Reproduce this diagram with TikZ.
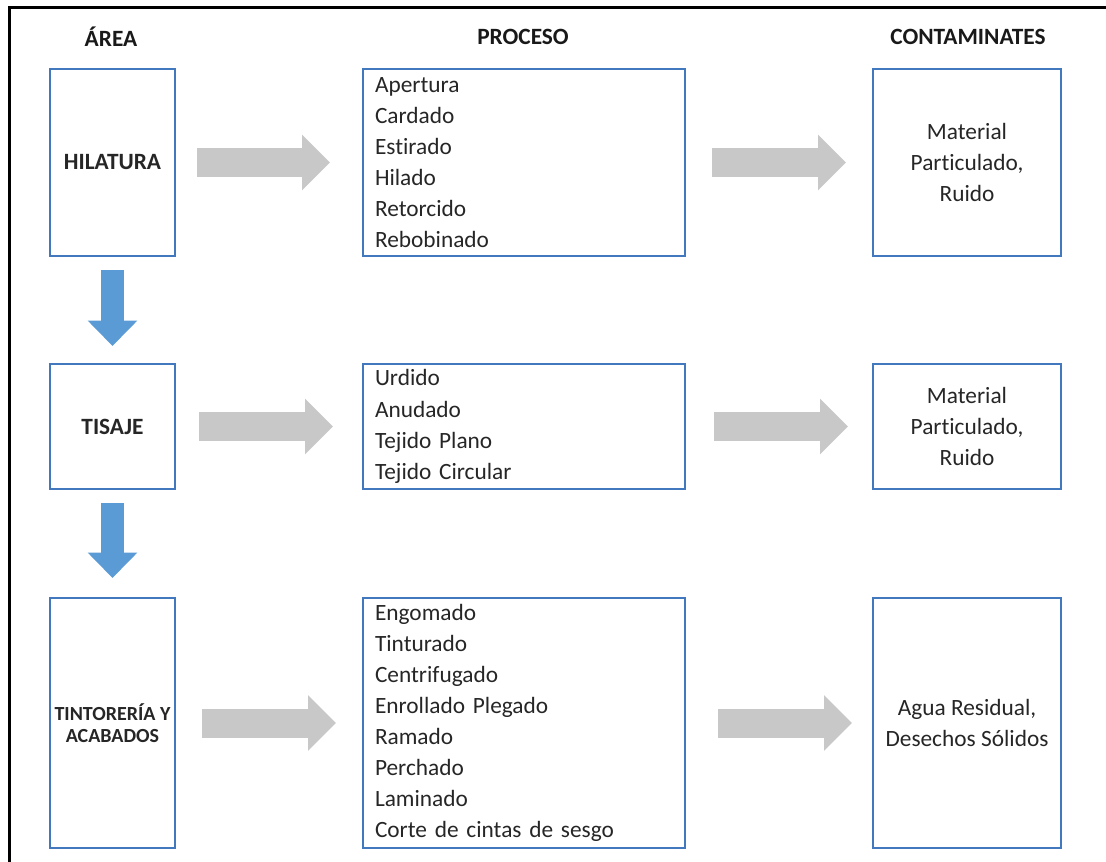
\documentclass[tikz,border=0pt]{standalone}
\usepackage{fontspec}
\setmainfont{Carlito}[Ligatures={TeX,NoCommon}]
\usetikzlibrary{arrows.meta}
\definecolor{boxblue}{RGB}{65,120,190}
\definecolor{arrowblue}{RGB}{91,155,213}
\definecolor{arrowgray}{RGB}{200,200,200}
\definecolor{txt}{RGB}{38,38,38}

\begin{document}
\begin{tikzpicture}[x=0.75pt, y=-0.75pt,
  area/.style={draw=boxblue, line width=1.5pt, anchor=north west, minimum width=93.75pt, inner sep=2pt, align=center, text=txt, font=\bfseries\fontsize{17.5}{21}\selectfont},
  proc/.style={draw=boxblue, line width=1.5pt, anchor=north west, text width=223.5pt, inner xsep=9pt, inner ysep=0pt, align=left, text=txt, font=\fontsize{17.5}{23.3}\selectfont},
  cont/.style={draw=boxblue, line width=1.5pt, anchor=north west, minimum width=141pt, align=center, text=txt, font=\fontsize{17.5}{23.6}\selectfont},
  head/.style={text=black!90, font=\bfseries\fontsize{17.5}{21}\selectfont},
  grayarrow/.style={draw=arrowgray, line width=21.75pt, -{Triangle[length=21pt, width=40.5pt]}},
  bluearrow/.style={draw=arrowblue, line width=17pt, -{Triangle[length=19pt, width=36pt]}}
]
\useasboundingbox (0,0) rectangle (1106,862);

% marco
\draw [line width=2.25pt] (9,870) -- (9,8) -- (1110,8);

\node [head] (harea) at (111,37) {ÁREA};
\node [head] (hproc) at (523,37) {PROCESO};
\node [head] (hcont) at (968,37) {CONTAMINATES};

\node [area, minimum height=140.25pt] (hil) at (49,68) {HILATURA};
\node [area, minimum height=93.75pt] (tis) at (49,363) {TISAJE};
\node [area, minimum height=187.5pt, font=\bfseries\fontsize{15}{16}\selectfont] (tin) at (49,597) {TINTORERÍA Y\\ACABADOS};

\node [proc, minimum height=140.25pt] (proc1) at (362,68) {Apertura\\Cardado\\Estirado\\Hilado\\Retorcido\\Rebobinado};
\node [proc, minimum height=93.75pt] (proc2) at (362,363) {Urdido\\Anudado\\Tejido Plano\\Tejido Circular};
\node [proc, minimum height=187.5pt] (proc3) at (362,597) {Engomado\\Tinturado\\Centrifugado\\Enrollado Plegado\\Ramado\\Perchado\\Laminado\\Corte de cintas de sesgo};

\node [cont, minimum height=140.25pt] (con1) at (872,68) {Material\\Particulado,\\Ruido};
\node [cont, minimum height=93.75pt] (con2) at (872,363) {Material\\Particulado,\\Ruido};
\node [cont, minimum height=187.5pt] (con3) at (872,597) {Agua Residual,\\Desechos Sólidos};

\draw [bluearrow, shorten <=9.75pt, shorten >=12.75pt] (hil) -- (tis);
\draw [bluearrow, shorten <=9.75pt, shorten >=14.25pt] (tis) -- (tin);

\draw [grayarrow, shorten <=15.75pt, shorten >=24pt] (hil) -- (proc1);
\draw [grayarrow, shorten <=19.5pt, shorten >=19.5pt] (proc1) -- (con1);
\draw [grayarrow, shorten <=17.25pt, shorten >=21.75pt] (tis) -- (proc2);
\draw [grayarrow, shorten <=21pt, shorten >=18pt] (proc2) -- (con2);
\draw [grayarrow, shorten <=19.5pt, shorten >=19.5pt] (tin) -- (proc3);
\draw [grayarrow, shorten <=24pt, shorten >=15pt] (proc3) -- (con3);
\end{tikzpicture}
\end{document}
